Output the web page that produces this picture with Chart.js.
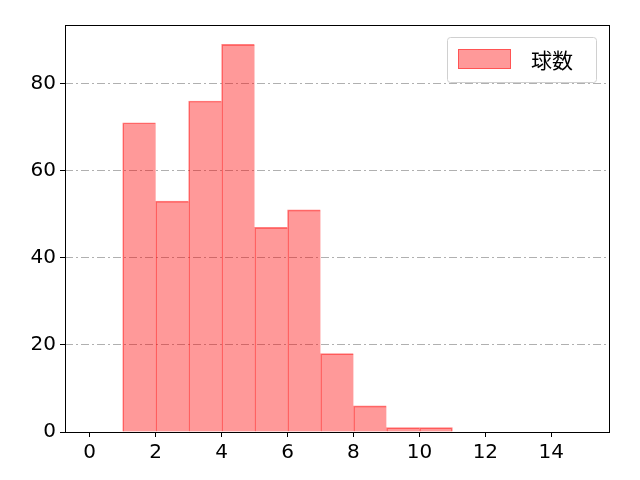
<!DOCTYPE html>
<html>
<head>
<meta charset="utf-8">
<script src="https://cdn.jsdelivr.net/npm/chart.js@4"></script>
<style>
  body { margin: 0; background: #fff; }
  #wrap { width: 640px; height: 480px; }
</style>
</head>
<body>
<div id="wrap"><canvas id="histChart" width="640" height="480"></canvas></div>
<script>
// histogram data: bin centers (width 1) and counts
const binCenters = [1.5, 2.5, 3.5, 4.5, 5.5, 6.5, 7.5, 8.5, 9.5, 10.5];
const counts = [71, 53, 76, 89, 47, 51, 18, 6, 1, 1];
const xTicks = [0, 2, 4, 6, 8, 10, 12, 14];
const yTicks = [0, 20, 40, 60, 80];
const seriesLabel = '球数';

const FONT = '"Noto Sans CJK JP", "DejaVu Sans", sans-serif';
const TICK_FONT = '"DejaVu Sans", sans-serif';

// frame around the plot area + legend box in the upper right
const framePlugin = {
    id: 'frame',
    afterDraw(chart) {
        const ctx = chart.ctx;
        const a = chart.chartArea;
        ctx.save();
        ctx.strokeStyle = '#000';
        ctx.lineWidth = 1;
        ctx.strokeRect(Math.round(a.left) + 0.5, Math.round(a.top) + 0.5,
            Math.round(a.right - a.left), Math.round(a.bottom - a.top));

        // legend
        const bx = 447.5, by = 37.5, bw = 149, bh = 45;
        ctx.beginPath();
        ctx.roundRect(bx, by, bw, bh, 3);
        ctx.fillStyle = 'rgba(255,255,255,0.8)';
        ctx.fill();
        ctx.strokeStyle = '#d0d0d0';
        ctx.stroke();
        ctx.fillStyle = 'rgba(255,0,0,0.4)';
        ctx.fillRect(458, 49, 53, 20);
        ctx.strokeStyle = 'rgba(255,0,0,0.45)';
        ctx.strokeRect(458.5, 49.5, 52, 19);
        ctx.fillStyle = '#000';
        ctx.font = '21px ' + FONT;
        ctx.textBaseline = 'middle';
        ctx.fillText(seriesLabel, 531, 60);
        ctx.restore();
    }
};

const lastBar = counts.length - 1;

const ctx = document.getElementById('histChart').getContext('2d');
new Chart(ctx, {
    type: 'bar',
    data: {
        datasets: [{
            label: seriesLabel,
            data: binCenters.map((x, i) => ({ x: x, y: counts[i] })),
            backgroundColor: 'rgba(255,0,0,0.4)',
            borderColor: 'rgba(255,0,0,0.5)',
            // single edge between neighbouring bars, like matplotlib
            borderWidth: c => ({ left: 1, top: 1, bottom: 0, right: c.dataIndex === lastBar ? 1 : 0 }),
            borderSkipped: false,
            barPercentage: 1.0,
            categoryPercentage: 1.0
        }]
    },
    options: {
        responsive: false,
        animation: false,
        devicePixelRatio: 1,
        layout: { padding: { top: 25, right: 31, bottom: 0, left: 0 } },
        plugins: {
            legend: { display: false },
            tooltip: { enabled: false }
        },
        scales: {
            x: {
                type: 'linear',
                min: -0.75,
                max: 15.75,
                offset: false,
                afterBuildTicks: scale => { scale.ticks = xTicks.map(v => ({ value: v })); },
                afterFit: scale => { scale.height = 48; },
                grid: {
                    offset: false,
                    drawOnChartArea: false,
                    drawTicks: true,
                    tickLength: 5,
                    tickColor: '#000'
                },
                border: { display: false },
                ticks: {
                    color: '#000',
                    font: { family: TICK_FONT, size: 20 },
                    padding: 4,
                    maxRotation: 0
                }
            },
            y: {
                min: 0,
                max: 93.45,
                afterBuildTicks: scale => { scale.ticks = yTicks.map(v => ({ value: v })); },
                afterFit: scale => { scale.width = 65; },
                grid: {
                    color: '#b0b0b0',
                    lineWidth: 1,
                    drawTicks: true,
                    tickLength: 5,
                    tickColor: '#000',
                    tickBorderDash: []
                },
                border: { display: false, dash: [8, 3, 2, 3] },
                ticks: {
                    color: '#000',
                    font: { family: TICK_FONT, size: 20 },
                    padding: 4
                }
            }
        }
    },
    plugins: [framePlugin]
});
</script>
</body>
</html>
